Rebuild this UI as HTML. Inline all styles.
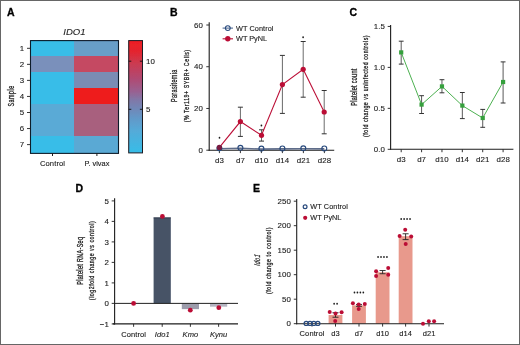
<!DOCTYPE html><html><head><meta charset="utf-8"><style>html,body{margin:0;padding:0;background:#fff;overflow:hidden;}svg{display:block;}text{font-family:"Liberation Sans", sans-serif;}</style></head><body>
<svg width="520" height="345" viewBox="0 0 520 345">
<rect x="0" y="0" width="520" height="345" fill="#fff"/>
<defs><filter id="soft" x="0" y="0" width="520" height="345" filterUnits="userSpaceOnUse"><feGaussianBlur stdDeviation="0.3"/></filter></defs>
<g filter="url(#soft)">
<text x="7.00" y="16.00" font-size="10.5" text-anchor="start" fill="#000" stroke="#000" stroke-width="0.3" font-weight="bold">A</text>
<text x="169.90" y="16.00" font-size="10.5" text-anchor="start" fill="#000" stroke="#000" stroke-width="0.3" font-weight="bold">B</text>
<text x="349.50" y="16.30" font-size="10.5" text-anchor="start" fill="#000" stroke="#000" stroke-width="0.3" font-weight="bold">C</text>
<text x="75.60" y="192.00" font-size="10.5" text-anchor="start" fill="#000" stroke="#000" stroke-width="0.3" font-weight="bold">D</text>
<text x="253.00" y="192.00" font-size="10.5" text-anchor="start" fill="#000" stroke="#000" stroke-width="0.3" font-weight="bold">E</text>
<text x="74.45" y="34.80" font-size="9.5" text-anchor="middle" fill="#222" stroke="#222" stroke-width="0.1" letter-spacing="0.1" font-style="italic">IDO1</text>
<rect x="30.5" y="40.40" width="44.6" height="16.55" fill="#37bde8" shape-rendering="crispEdges"/>
<rect x="74.2" y="40.40" width="44.4" height="16.55" fill="#689ec8" shape-rendering="crispEdges"/>
<rect x="30.5" y="56.35" width="44.6" height="16.55" fill="#7a90bb" shape-rendering="crispEdges"/>
<rect x="74.2" y="56.35" width="44.4" height="16.55" fill="#c54862" shape-rendering="crispEdges"/>
<rect x="30.5" y="72.30" width="44.6" height="16.55" fill="#37bde8" shape-rendering="crispEdges"/>
<rect x="74.2" y="72.30" width="44.4" height="16.55" fill="#7a8cb4" shape-rendering="crispEdges"/>
<rect x="30.5" y="88.25" width="44.6" height="16.55" fill="#37bde8" shape-rendering="crispEdges"/>
<rect x="74.2" y="88.25" width="44.4" height="16.55" fill="#ee1c1c" shape-rendering="crispEdges"/>
<rect x="30.5" y="104.20" width="44.6" height="16.55" fill="#5aaad6" shape-rendering="crispEdges"/>
<rect x="74.2" y="104.20" width="44.4" height="16.55" fill="#a8607e" shape-rendering="crispEdges"/>
<rect x="30.5" y="120.15" width="44.6" height="16.55" fill="#5aaad6" shape-rendering="crispEdges"/>
<rect x="74.2" y="120.15" width="44.4" height="16.55" fill="#a8607e" shape-rendering="crispEdges"/>
<rect x="30.5" y="136.10" width="44.6" height="17.30" fill="#37bde8" shape-rendering="crispEdges"/>
<rect x="74.2" y="136.10" width="44.4" height="17.30" fill="#5aa9d4" shape-rendering="crispEdges"/>
<rect x="30.5" y="40.6" width="88" height="112.8" fill="none" stroke="#0f1c2a" stroke-width="1.1"/>
<line x1="27.00" y1="48.30" x2="30.50" y2="48.30" stroke="#1e1e1e" stroke-width="0.9"/>
<text x="24.20" y="51.00" font-size="7.9" text-anchor="end" fill="#222" stroke="#222" stroke-width="0.12" letter-spacing="0.1" >1</text>
<line x1="27.00" y1="64.35" x2="30.50" y2="64.35" stroke="#1e1e1e" stroke-width="0.9"/>
<text x="24.20" y="67.05" font-size="7.9" text-anchor="end" fill="#222" stroke="#222" stroke-width="0.12" letter-spacing="0.1" >2</text>
<line x1="27.00" y1="80.40" x2="30.50" y2="80.40" stroke="#1e1e1e" stroke-width="0.9"/>
<text x="24.20" y="83.10" font-size="7.9" text-anchor="end" fill="#222" stroke="#222" stroke-width="0.12" letter-spacing="0.1" >3</text>
<line x1="27.00" y1="96.45" x2="30.50" y2="96.45" stroke="#1e1e1e" stroke-width="0.9"/>
<text x="24.20" y="99.15" font-size="7.9" text-anchor="end" fill="#222" stroke="#222" stroke-width="0.12" letter-spacing="0.1" >4</text>
<line x1="27.00" y1="112.50" x2="30.50" y2="112.50" stroke="#1e1e1e" stroke-width="0.9"/>
<text x="24.20" y="115.20" font-size="7.9" text-anchor="end" fill="#222" stroke="#222" stroke-width="0.12" letter-spacing="0.1" >5</text>
<line x1="27.00" y1="128.55" x2="30.50" y2="128.55" stroke="#1e1e1e" stroke-width="0.9"/>
<text x="24.20" y="131.25" font-size="7.9" text-anchor="end" fill="#222" stroke="#222" stroke-width="0.12" letter-spacing="0.1" >6</text>
<line x1="27.00" y1="144.60" x2="30.50" y2="144.60" stroke="#1e1e1e" stroke-width="0.9"/>
<text x="24.20" y="147.30" font-size="7.9" text-anchor="end" fill="#222" stroke="#222" stroke-width="0.12" letter-spacing="0.1" >7</text>
<line x1="52.50" y1="153.00" x2="52.50" y2="156.00" stroke="#1e1e1e" stroke-width="1.0"/>
<line x1="96.90" y1="153.00" x2="96.90" y2="156.00" stroke="#1e1e1e" stroke-width="1.0"/>
<text x="52.55" y="166.10" font-size="7.6" text-anchor="middle" fill="#222" stroke="#222" stroke-width="0.12" letter-spacing="0.1" >Control</text>
<text x="96.90" y="166.10" font-size="7.4" text-anchor="middle" fill="#222" stroke="#222" stroke-width="0.12" >P. vivax</text>
<text transform="translate(14.3,96.15) rotate(-90) scale(0.0640,0.1)" x="0" y="0" font-size="83.0" text-anchor="middle" fill="#222" stroke="#222" stroke-width="3.00" textLength="325.0" lengthAdjust="spacing">Sample</text>
<defs><linearGradient id="cb" x1="0" y1="0" x2="0" y2="1"><stop offset="0" stop-color="#ef1d24"/><stop offset="0.10" stop-color="#e3252f"/><stop offset="0.20" stop-color="#cc3a50"/><stop offset="0.33" stop-color="#b24870"/><stop offset="0.45" stop-color="#9a6090"/><stop offset="0.53" stop-color="#8078a8"/><stop offset="0.61" stop-color="#7088b8"/><stop offset="0.69" stop-color="#6298c8"/><stop offset="0.80" stop-color="#55aad8"/><stop offset="1" stop-color="#36bde8"/></linearGradient></defs>
<rect x="128.7" y="40.6" width="13.8" height="112.3" fill="url(#cb)" stroke="#1d1a22" stroke-width="1"/>
<line x1="128.70" y1="61.20" x2="131.30" y2="61.20" stroke="#111" stroke-width="0.9"/>
<line x1="139.90" y1="61.20" x2="142.50" y2="61.20" stroke="#111" stroke-width="0.9"/>
<text x="146.00" y="63.90" font-size="7.9" text-anchor="start" fill="#222" stroke="#222" stroke-width="0.12" letter-spacing="0.1" >10</text>
<line x1="128.70" y1="109.30" x2="131.30" y2="109.30" stroke="#111" stroke-width="0.9"/>
<line x1="139.90" y1="109.30" x2="142.50" y2="109.30" stroke="#111" stroke-width="0.9"/>
<text x="146.00" y="112.00" font-size="7.9" text-anchor="start" fill="#222" stroke="#222" stroke-width="0.12" letter-spacing="0.1" >5</text>
<line x1="209.20" y1="22.20" x2="209.20" y2="150.70" stroke="#1e1e1e" stroke-width="1.1"/>
<line x1="208.70" y1="150.20" x2="334.20" y2="150.20" stroke="#1e1e1e" stroke-width="1.1"/>
<line x1="206.30" y1="150.20" x2="209.20" y2="150.20" stroke="#1e1e1e" stroke-width="0.9"/>
<text x="203.10" y="152.90" font-size="7.9" text-anchor="end" fill="#222" stroke="#222" stroke-width="0.12" letter-spacing="0.1" >0</text>
<line x1="206.30" y1="108.47" x2="209.20" y2="108.47" stroke="#1e1e1e" stroke-width="0.9"/>
<text x="203.10" y="111.17" font-size="7.9" text-anchor="end" fill="#222" stroke="#222" stroke-width="0.12" letter-spacing="0.1" >20</text>
<line x1="206.30" y1="66.73" x2="209.20" y2="66.73" stroke="#1e1e1e" stroke-width="0.9"/>
<text x="203.10" y="69.43" font-size="7.9" text-anchor="end" fill="#222" stroke="#222" stroke-width="0.12" letter-spacing="0.1" >40</text>
<line x1="206.30" y1="25.00" x2="209.20" y2="25.00" stroke="#1e1e1e" stroke-width="0.9"/>
<text x="203.10" y="27.70" font-size="7.9" text-anchor="end" fill="#222" stroke="#222" stroke-width="0.12" letter-spacing="0.1" >60</text>
<line x1="219.40" y1="150.20" x2="219.40" y2="153.10" stroke="#1e1e1e" stroke-width="0.9"/>
<text x="219.45" y="162.80" font-size="7.9" text-anchor="middle" fill="#222" stroke="#222" stroke-width="0.12" letter-spacing="0.1" >d3</text>
<line x1="240.40" y1="150.20" x2="240.40" y2="153.10" stroke="#1e1e1e" stroke-width="0.9"/>
<text x="240.45" y="162.80" font-size="7.9" text-anchor="middle" fill="#222" stroke="#222" stroke-width="0.12" letter-spacing="0.1" >d7</text>
<line x1="261.40" y1="150.20" x2="261.40" y2="153.10" stroke="#1e1e1e" stroke-width="0.9"/>
<text x="261.45" y="162.80" font-size="7.9" text-anchor="middle" fill="#222" stroke="#222" stroke-width="0.12" letter-spacing="0.1" >d10</text>
<line x1="282.40" y1="150.20" x2="282.40" y2="153.10" stroke="#1e1e1e" stroke-width="0.9"/>
<text x="282.45" y="162.80" font-size="7.9" text-anchor="middle" fill="#222" stroke="#222" stroke-width="0.12" letter-spacing="0.1" >d14</text>
<line x1="303.40" y1="150.20" x2="303.40" y2="153.10" stroke="#1e1e1e" stroke-width="0.9"/>
<text x="303.45" y="162.80" font-size="7.9" text-anchor="middle" fill="#222" stroke="#222" stroke-width="0.12" letter-spacing="0.1" >d21</text>
<line x1="324.40" y1="150.20" x2="324.40" y2="153.10" stroke="#1e1e1e" stroke-width="0.9"/>
<text x="324.45" y="162.80" font-size="7.9" text-anchor="middle" fill="#222" stroke="#222" stroke-width="0.12" letter-spacing="0.1" >d28</text>
<text transform="translate(177.0,85.85) rotate(-90) scale(0.0640,0.1)" x="0" y="0" font-size="85.0" text-anchor="middle" fill="#222" stroke="#222" stroke-width="3.00" textLength="507.8" lengthAdjust="spacing">Parasitemia</text>
<text transform="translate(188.6,86.15) rotate(-90) scale(0.0640,0.1)" x="0" y="0" font-size="81.0" text-anchor="middle" fill="#222" stroke="#222" stroke-width="3.00" textLength="1131.2" lengthAdjust="spacing">(% Ter119+ SYBR+ Cells)</text>
<polyline points="219.4,148.8 240.4,148.3 261.4,149.1 282.4,148.9 303.3,148.8 324.3,148.9" fill="none" stroke="#5f6d8a" stroke-width="1.6"/>
<line x1="240.40" y1="107.20" x2="240.40" y2="136.40" stroke="#6a6a6a" stroke-width="1.0"/>
<line x1="237.90" y1="107.20" x2="242.90" y2="107.20" stroke="#333" stroke-width="1.0"/>
<line x1="237.90" y1="136.40" x2="242.90" y2="136.40" stroke="#333" stroke-width="1.0"/>
<line x1="261.50" y1="129.80" x2="261.50" y2="141.10" stroke="#6a6a6a" stroke-width="1.0"/>
<line x1="259.00" y1="129.80" x2="264.00" y2="129.80" stroke="#333" stroke-width="1.0"/>
<line x1="259.00" y1="141.10" x2="264.00" y2="141.10" stroke="#333" stroke-width="1.0"/>
<line x1="282.40" y1="55.40" x2="282.40" y2="113.40" stroke="#6a6a6a" stroke-width="1.0"/>
<line x1="279.90" y1="55.40" x2="284.90" y2="55.40" stroke="#333" stroke-width="1.0"/>
<line x1="279.90" y1="113.40" x2="284.90" y2="113.40" stroke="#333" stroke-width="1.0"/>
<line x1="303.20" y1="41.50" x2="303.20" y2="97.20" stroke="#6a6a6a" stroke-width="1.0"/>
<line x1="300.70" y1="41.50" x2="305.70" y2="41.50" stroke="#333" stroke-width="1.0"/>
<line x1="300.70" y1="97.20" x2="305.70" y2="97.20" stroke="#333" stroke-width="1.0"/>
<line x1="324.20" y1="90.50" x2="324.20" y2="133.80" stroke="#6a6a6a" stroke-width="1.0"/>
<line x1="321.70" y1="90.50" x2="326.70" y2="90.50" stroke="#333" stroke-width="1.0"/>
<line x1="321.70" y1="133.80" x2="326.70" y2="133.80" stroke="#333" stroke-width="1.0"/>
<polyline points="219.4,147.4 240.4,121.6 261.5,135.3 282.4,84.6 303.2,69.3 324.2,112.0" fill="none" stroke="#bb0e36" stroke-width="1.1"/>
<circle cx="219.4" cy="148.3" r="2.45" fill="none" stroke="#28497c" stroke-width="1.15"/>
<circle cx="240.4" cy="147.8" r="2.45" fill="none" stroke="#28497c" stroke-width="1.15"/>
<circle cx="261.4" cy="148.6" r="2.45" fill="none" stroke="#28497c" stroke-width="1.15"/>
<circle cx="282.4" cy="148.4" r="2.45" fill="none" stroke="#28497c" stroke-width="1.15"/>
<circle cx="303.3" cy="148.3" r="2.45" fill="none" stroke="#28497c" stroke-width="1.15"/>
<circle cx="324.3" cy="148.4" r="2.45" fill="none" stroke="#28497c" stroke-width="1.15"/>
<circle cx="219.4" cy="147.4" r="2.6" fill="#7a1a40"/>
<circle cx="240.4" cy="121.6" r="2.6" fill="#bb0e36"/>
<circle cx="261.5" cy="135.3" r="2.6" fill="#bb0e36"/>
<circle cx="282.4" cy="84.6" r="2.6" fill="#bb0e36"/>
<circle cx="303.2" cy="69.3" r="2.6" fill="#bb0e36"/>
<circle cx="324.2" cy="112.0" r="2.6" fill="#bb0e36"/>
<ellipse cx="219.5" cy="137.8" rx="0.85" ry="1.0" fill="#1a1a1a"/>
<ellipse cx="261.4" cy="125.4" rx="0.85" ry="1.0" fill="#1a1a1a"/>
<ellipse cx="303.1" cy="37.3" rx="0.85" ry="1.0" fill="#1a1a1a"/>
<line x1="222.60" y1="28.10" x2="233.00" y2="28.10" stroke="#28497c" stroke-width="0.9"/>
<circle cx="227.8" cy="28.1" r="2.4" fill="none" stroke="#28497c" stroke-width="1.1"/>
<text x="236.00" y="30.50" font-size="7.3" text-anchor="start" fill="#222" stroke="#222" stroke-width="0.12" letter-spacing="0.08" >WT Control</text>
<line x1="222.60" y1="38.80" x2="233.00" y2="38.80" stroke="#bb0e36" stroke-width="1.1"/>
<circle cx="227.8" cy="38.8" r="2.7" fill="#bb0e36"/>
<text x="236.00" y="41.20" font-size="7.3" text-anchor="start" fill="#222" stroke="#222" stroke-width="0.12" >WT PyNL</text>
<line x1="390.60" y1="25.10" x2="390.60" y2="149.80" stroke="#1e1e1e" stroke-width="1.1"/>
<line x1="390.10" y1="149.30" x2="513.40" y2="149.30" stroke="#1e1e1e" stroke-width="1.1"/>
<line x1="387.70" y1="149.30" x2="390.60" y2="149.30" stroke="#1e1e1e" stroke-width="0.9"/>
<text x="385.10" y="152.00" font-size="7.9" text-anchor="end" fill="#222" stroke="#222" stroke-width="0.12" letter-spacing="0.1" >0.0</text>
<line x1="387.70" y1="108.35" x2="390.60" y2="108.35" stroke="#1e1e1e" stroke-width="0.9"/>
<text x="385.10" y="111.05" font-size="7.9" text-anchor="end" fill="#222" stroke="#222" stroke-width="0.12" letter-spacing="0.1" >0.5</text>
<line x1="387.70" y1="67.40" x2="390.60" y2="67.40" stroke="#1e1e1e" stroke-width="0.9"/>
<text x="385.10" y="70.10" font-size="7.9" text-anchor="end" fill="#222" stroke="#222" stroke-width="0.12" letter-spacing="0.1" >1.0</text>
<line x1="387.70" y1="26.45" x2="390.60" y2="26.45" stroke="#1e1e1e" stroke-width="0.9"/>
<text x="385.10" y="29.15" font-size="7.9" text-anchor="end" fill="#222" stroke="#222" stroke-width="0.12" letter-spacing="0.1" >1.5</text>
<line x1="401.20" y1="149.30" x2="401.20" y2="152.20" stroke="#1e1e1e" stroke-width="0.9"/>
<text x="401.25" y="162.00" font-size="7.9" text-anchor="middle" fill="#222" stroke="#222" stroke-width="0.12" letter-spacing="0.1" >d3</text>
<line x1="421.58" y1="149.30" x2="421.58" y2="152.20" stroke="#1e1e1e" stroke-width="0.9"/>
<text x="421.63" y="162.00" font-size="7.9" text-anchor="middle" fill="#222" stroke="#222" stroke-width="0.12" letter-spacing="0.1" >d7</text>
<line x1="441.96" y1="149.30" x2="441.96" y2="152.20" stroke="#1e1e1e" stroke-width="0.9"/>
<text x="442.01" y="162.00" font-size="7.9" text-anchor="middle" fill="#222" stroke="#222" stroke-width="0.12" letter-spacing="0.1" >d10</text>
<line x1="462.34" y1="149.30" x2="462.34" y2="152.20" stroke="#1e1e1e" stroke-width="0.9"/>
<text x="462.39" y="162.00" font-size="7.9" text-anchor="middle" fill="#222" stroke="#222" stroke-width="0.12" letter-spacing="0.1" >d14</text>
<line x1="482.72" y1="149.30" x2="482.72" y2="152.20" stroke="#1e1e1e" stroke-width="0.9"/>
<text x="482.77" y="162.00" font-size="7.9" text-anchor="middle" fill="#222" stroke="#222" stroke-width="0.12" letter-spacing="0.1" >d21</text>
<line x1="503.10" y1="149.30" x2="503.10" y2="152.20" stroke="#1e1e1e" stroke-width="0.9"/>
<text x="503.15" y="162.00" font-size="7.9" text-anchor="middle" fill="#222" stroke="#222" stroke-width="0.12" letter-spacing="0.1" >d28</text>
<text transform="translate(357.3,87.25) rotate(-90) scale(0.0640,0.1)" x="0" y="0" font-size="85.0" text-anchor="middle" fill="#222" stroke="#222" stroke-width="3.00" textLength="578.1" lengthAdjust="spacing">Platelet count</text>
<text transform="translate(368.3,86.2) rotate(-90) scale(0.0640,0.1)" x="0" y="0" font-size="81.0" text-anchor="middle" fill="#222" stroke="#222" stroke-width="3.00" textLength="1587.5" lengthAdjust="spacing">(fold change vs uninfected controls)</text>
<line x1="401.20" y1="41.20" x2="401.20" y2="64.10" stroke="#5a5a5a" stroke-width="1.0"/>
<line x1="398.80" y1="41.20" x2="403.60" y2="41.20" stroke="#333" stroke-width="1.0"/>
<line x1="398.80" y1="64.10" x2="403.60" y2="64.10" stroke="#333" stroke-width="1.0"/>
<line x1="421.58" y1="95.70" x2="421.58" y2="113.50" stroke="#5a5a5a" stroke-width="1.0"/>
<line x1="419.18" y1="95.70" x2="423.98" y2="95.70" stroke="#333" stroke-width="1.0"/>
<line x1="419.18" y1="113.50" x2="423.98" y2="113.50" stroke="#333" stroke-width="1.0"/>
<line x1="441.96" y1="79.70" x2="441.96" y2="92.80" stroke="#5a5a5a" stroke-width="1.0"/>
<line x1="439.56" y1="79.70" x2="444.36" y2="79.70" stroke="#333" stroke-width="1.0"/>
<line x1="439.56" y1="92.80" x2="444.36" y2="92.80" stroke="#333" stroke-width="1.0"/>
<line x1="462.34" y1="92.50" x2="462.34" y2="118.60" stroke="#5a5a5a" stroke-width="1.0"/>
<line x1="459.94" y1="92.50" x2="464.74" y2="92.50" stroke="#333" stroke-width="1.0"/>
<line x1="459.94" y1="118.60" x2="464.74" y2="118.60" stroke="#333" stroke-width="1.0"/>
<line x1="482.72" y1="109.40" x2="482.72" y2="127.30" stroke="#5a5a5a" stroke-width="1.0"/>
<line x1="480.32" y1="109.40" x2="485.12" y2="109.40" stroke="#333" stroke-width="1.0"/>
<line x1="480.32" y1="127.30" x2="485.12" y2="127.30" stroke="#333" stroke-width="1.0"/>
<line x1="503.10" y1="61.90" x2="503.10" y2="103.00" stroke="#5a5a5a" stroke-width="1.0"/>
<line x1="500.70" y1="61.90" x2="505.50" y2="61.90" stroke="#333" stroke-width="1.0"/>
<line x1="500.70" y1="103.00" x2="505.50" y2="103.00" stroke="#333" stroke-width="1.0"/>
<polyline points="401.2,52.4 421.6,104.6 442.0,86.4 462.3,105.6 482.7,118.0 503.1,82.0" fill="none" stroke="#4cb050" stroke-width="1"/>
<rect x="399.10" y="50.30" width="4.2" height="4.2" fill="#36a03c"/>
<rect x="419.48" y="102.50" width="4.2" height="4.2" fill="#36a03c"/>
<rect x="439.86" y="84.30" width="4.2" height="4.2" fill="#36a03c"/>
<rect x="460.24" y="103.50" width="4.2" height="4.2" fill="#36a03c"/>
<rect x="480.62" y="115.90" width="4.2" height="4.2" fill="#36a03c"/>
<rect x="501.00" y="79.90" width="4.2" height="4.2" fill="#36a03c"/>
<line x1="114.60" y1="198.20" x2="114.60" y2="324.40" stroke="#1e1e1e" stroke-width="1.1"/>
<line x1="111.70" y1="323.90" x2="114.60" y2="323.90" stroke="#1e1e1e" stroke-width="0.9"/>
<text x="109.00" y="326.60" font-size="7.9" text-anchor="end" fill="#222" stroke="#222" stroke-width="0.12" letter-spacing="0.1" >−1</text>
<line x1="111.70" y1="303.40" x2="114.60" y2="303.40" stroke="#1e1e1e" stroke-width="0.9"/>
<text x="109.00" y="306.10" font-size="7.9" text-anchor="end" fill="#222" stroke="#222" stroke-width="0.12" letter-spacing="0.1" >0</text>
<line x1="111.70" y1="282.90" x2="114.60" y2="282.90" stroke="#1e1e1e" stroke-width="0.9"/>
<text x="109.00" y="285.60" font-size="7.9" text-anchor="end" fill="#222" stroke="#222" stroke-width="0.12" letter-spacing="0.1" >1</text>
<line x1="111.70" y1="262.40" x2="114.60" y2="262.40" stroke="#1e1e1e" stroke-width="0.9"/>
<text x="109.00" y="265.10" font-size="7.9" text-anchor="end" fill="#222" stroke="#222" stroke-width="0.12" letter-spacing="0.1" >2</text>
<line x1="111.70" y1="241.90" x2="114.60" y2="241.90" stroke="#1e1e1e" stroke-width="0.9"/>
<text x="109.00" y="244.60" font-size="7.9" text-anchor="end" fill="#222" stroke="#222" stroke-width="0.12" letter-spacing="0.1" >3</text>
<line x1="111.70" y1="221.40" x2="114.60" y2="221.40" stroke="#1e1e1e" stroke-width="0.9"/>
<text x="109.00" y="224.10" font-size="7.9" text-anchor="end" fill="#222" stroke="#222" stroke-width="0.12" letter-spacing="0.1" >4</text>
<line x1="111.70" y1="200.90" x2="114.60" y2="200.90" stroke="#1e1e1e" stroke-width="0.9"/>
<text x="109.00" y="203.60" font-size="7.9" text-anchor="end" fill="#222" stroke="#222" stroke-width="0.12" letter-spacing="0.1" >5</text>
<rect x="153.60" y="217.50" width="17.2" height="85.90" fill="#465366"/>
<line x1="153.60" y1="217.90" x2="170.80" y2="217.90" stroke="#2c3646" stroke-width="0.8"/>
<rect x="181.80" y="303.40" width="17.2" height="5.74" fill="#9c9cab"/>
<rect x="210.00" y="303.40" width="17.2" height="3.28" fill="#b5b5c2"/>
<line x1="114.60" y1="303.40" x2="238.00" y2="303.40" stroke="#222" stroke-width="1.0"/>
<line x1="112.80" y1="323.90" x2="238.00" y2="323.90" stroke="#1e1e1e" stroke-width="1.1"/>
<line x1="133.60" y1="323.90" x2="133.60" y2="326.80" stroke="#1e1e1e" stroke-width="0.9"/>
<line x1="162.20" y1="323.90" x2="162.20" y2="326.80" stroke="#1e1e1e" stroke-width="0.9"/>
<line x1="190.40" y1="323.90" x2="190.40" y2="326.80" stroke="#1e1e1e" stroke-width="0.9"/>
<line x1="218.60" y1="323.90" x2="218.60" y2="326.80" stroke="#1e1e1e" stroke-width="0.9"/>
<circle cx="133.6" cy="303.4" r="2.4" fill="#bb0e36"/>
<circle cx="162.4" cy="216.4" r="2.4" fill="#bb0e36"/>
<circle cx="190.3" cy="310.2" r="2.4" fill="#bb0e36"/>
<circle cx="218.8" cy="307.7" r="2.4" fill="#bb0e36"/>
<text x="133.65" y="336.50" font-size="7.5" text-anchor="middle" fill="#222" stroke="#222" stroke-width="0.12" letter-spacing="0.1" >Control</text>
<text x="162.25" y="336.50" font-size="7.5" text-anchor="middle" fill="#222" stroke="#222" stroke-width="0.12" letter-spacing="0.1" font-style="italic">Ido1</text>
<text x="190.45" y="336.50" font-size="7.5" text-anchor="middle" fill="#222" stroke="#222" stroke-width="0.12" letter-spacing="0.1" font-style="italic">Kmo</text>
<text x="218.65" y="336.50" font-size="7.5" text-anchor="middle" fill="#222" stroke="#222" stroke-width="0.12" letter-spacing="0.1" font-style="italic">Kynu</text>
<text transform="translate(82.7,260.9) rotate(-90) scale(0.0640,0.1)" x="0" y="0" font-size="85.0" text-anchor="middle" fill="#222" stroke="#222" stroke-width="3.00" textLength="746.9" lengthAdjust="spacing">Platelet RNA-Seq</text>
<text transform="translate(93.8,260.75) rotate(-90) scale(0.0640,0.1)" x="0" y="0" font-size="81.0" text-anchor="middle" fill="#222" stroke="#222" stroke-width="3.00" textLength="1231.2" lengthAdjust="spacing">(log2fold change vs control)</text>
<line x1="296.70" y1="199.00" x2="296.70" y2="324.20" stroke="#1e1e1e" stroke-width="1.1"/>
<line x1="293.80" y1="323.70" x2="296.70" y2="323.70" stroke="#1e1e1e" stroke-width="0.9"/>
<text x="291.00" y="326.40" font-size="7.9" text-anchor="end" fill="#222" stroke="#222" stroke-width="0.12" letter-spacing="0.1" >0</text>
<line x1="293.80" y1="299.20" x2="296.70" y2="299.20" stroke="#1e1e1e" stroke-width="0.9"/>
<text x="291.00" y="301.90" font-size="7.9" text-anchor="end" fill="#222" stroke="#222" stroke-width="0.12" letter-spacing="0.1" >50</text>
<line x1="293.80" y1="274.70" x2="296.70" y2="274.70" stroke="#1e1e1e" stroke-width="0.9"/>
<text x="291.00" y="277.40" font-size="7.9" text-anchor="end" fill="#222" stroke="#222" stroke-width="0.12" letter-spacing="0.1" >100</text>
<line x1="293.80" y1="250.20" x2="296.70" y2="250.20" stroke="#1e1e1e" stroke-width="0.9"/>
<text x="291.00" y="252.90" font-size="7.9" text-anchor="end" fill="#222" stroke="#222" stroke-width="0.12" letter-spacing="0.1" >150</text>
<line x1="293.80" y1="225.70" x2="296.70" y2="225.70" stroke="#1e1e1e" stroke-width="0.9"/>
<text x="291.00" y="228.40" font-size="7.9" text-anchor="end" fill="#222" stroke="#222" stroke-width="0.12" letter-spacing="0.1" >200</text>
<line x1="293.80" y1="201.20" x2="296.70" y2="201.20" stroke="#1e1e1e" stroke-width="0.9"/>
<text x="291.00" y="203.90" font-size="7.9" text-anchor="end" fill="#222" stroke="#222" stroke-width="0.12" letter-spacing="0.1" >250</text>
<rect x="328.60" y="314.98" width="13.8" height="8.72" fill="#e8998c"/>
<rect x="352.10" y="305.37" width="13.8" height="18.33" fill="#e8998c"/>
<rect x="375.70" y="272.25" width="13.8" height="51.45" fill="#e8998c"/>
<rect x="398.70" y="236.19" width="13.8" height="87.51" fill="#e8998c"/>
<line x1="296.20" y1="323.70" x2="444.00" y2="323.70" stroke="#1e1e1e" stroke-width="1.1"/>
<line x1="312.00" y1="323.70" x2="312.00" y2="326.60" stroke="#1e1e1e" stroke-width="0.9"/>
<line x1="335.50" y1="323.70" x2="335.50" y2="326.60" stroke="#1e1e1e" stroke-width="0.9"/>
<line x1="359.00" y1="323.70" x2="359.00" y2="326.60" stroke="#1e1e1e" stroke-width="0.9"/>
<line x1="382.60" y1="323.70" x2="382.60" y2="326.60" stroke="#1e1e1e" stroke-width="0.9"/>
<line x1="405.60" y1="323.70" x2="405.60" y2="326.60" stroke="#1e1e1e" stroke-width="0.9"/>
<line x1="429.00" y1="323.70" x2="429.00" y2="326.60" stroke="#1e1e1e" stroke-width="0.9"/>
<line x1="335.50" y1="312.72" x2="335.50" y2="317.23" stroke="#222" stroke-width="0.9"/>
<line x1="332.50" y1="312.72" x2="338.50" y2="312.72" stroke="#222" stroke-width="0.9"/>
<line x1="332.50" y1="317.23" x2="338.50" y2="317.23" stroke="#222" stroke-width="0.9"/>
<line x1="359.00" y1="304.44" x2="359.00" y2="306.31" stroke="#222" stroke-width="0.9"/>
<line x1="356.00" y1="304.44" x2="362.00" y2="304.44" stroke="#222" stroke-width="0.9"/>
<line x1="356.00" y1="306.31" x2="362.00" y2="306.31" stroke="#222" stroke-width="0.9"/>
<line x1="382.60" y1="270.53" x2="382.60" y2="273.72" stroke="#222" stroke-width="0.9"/>
<line x1="379.60" y1="270.53" x2="385.60" y2="270.53" stroke="#222" stroke-width="0.9"/>
<line x1="379.60" y1="273.72" x2="385.60" y2="273.72" stroke="#222" stroke-width="0.9"/>
<line x1="405.60" y1="233.78" x2="405.60" y2="239.62" stroke="#222" stroke-width="0.9"/>
<line x1="402.60" y1="233.78" x2="408.60" y2="233.78" stroke="#222" stroke-width="0.9"/>
<line x1="402.60" y1="239.62" x2="408.60" y2="239.62" stroke="#222" stroke-width="0.9"/>
<circle cx="329.7" cy="311.9" r="2.0" fill="#bb0e36"/>
<circle cx="335.5" cy="313.6" r="2.0" fill="#bb0e36"/>
<circle cx="341.6" cy="312.2" r="2.0" fill="#bb0e36"/>
<circle cx="335.2" cy="320.9" r="2.0" fill="#bb0e36"/>
<circle cx="352.9" cy="303.2" r="2.0" fill="#bb0e36"/>
<circle cx="358.7" cy="304.6" r="2.0" fill="#bb0e36"/>
<circle cx="364.8" cy="303.9" r="2.0" fill="#bb0e36"/>
<circle cx="358.7" cy="309.0" r="2.0" fill="#bb0e36"/>
<circle cx="376.1" cy="271.3" r="2.0" fill="#bb0e36"/>
<circle cx="388.2" cy="267.9" r="2.0" fill="#bb0e36"/>
<circle cx="376.1" cy="276.0" r="2.0" fill="#bb0e36"/>
<circle cx="388.2" cy="274.8" r="2.0" fill="#bb0e36"/>
<circle cx="405.2" cy="229.7" r="2.0" fill="#bb0e36"/>
<circle cx="399.6" cy="236.0" r="2.0" fill="#bb0e36"/>
<circle cx="411.2" cy="236.6" r="2.0" fill="#bb0e36"/>
<circle cx="405.7" cy="243.9" r="2.0" fill="#bb0e36"/>
<circle cx="423.0" cy="323.7" r="2.0" fill="#bb0e36"/>
<circle cx="428.8" cy="321.2" r="2.0" fill="#bb0e36"/>
<circle cx="434.1" cy="321.2" r="2.0" fill="#bb0e36"/>
<circle cx="306.2" cy="323.4" r="2.1" fill="none" stroke="#28497c" stroke-width="1.2"/>
<circle cx="310.0" cy="323.4" r="2.1" fill="none" stroke="#28497c" stroke-width="1.2"/>
<circle cx="313.8" cy="323.4" r="2.1" fill="none" stroke="#28497c" stroke-width="1.2"/>
<circle cx="317.8" cy="323.4" r="2.1" fill="none" stroke="#28497c" stroke-width="1.2"/>
<ellipse cx="334.12" cy="303.8" rx="0.85" ry="1.05" fill="#1a1a1a"/>
<ellipse cx="337.08" cy="303.8" rx="0.85" ry="1.05" fill="#1a1a1a"/>
<ellipse cx="354.47" cy="292.5" rx="0.85" ry="1.05" fill="#1a1a1a"/>
<ellipse cx="357.42" cy="292.5" rx="0.85" ry="1.05" fill="#1a1a1a"/>
<ellipse cx="360.38" cy="292.5" rx="0.85" ry="1.05" fill="#1a1a1a"/>
<ellipse cx="363.32" cy="292.5" rx="0.85" ry="1.05" fill="#1a1a1a"/>
<ellipse cx="378.07" cy="257.0" rx="0.85" ry="1.05" fill="#1a1a1a"/>
<ellipse cx="381.02" cy="257.0" rx="0.85" ry="1.05" fill="#1a1a1a"/>
<ellipse cx="383.98" cy="257.0" rx="0.85" ry="1.05" fill="#1a1a1a"/>
<ellipse cx="386.93" cy="257.0" rx="0.85" ry="1.05" fill="#1a1a1a"/>
<ellipse cx="401.18" cy="219.0" rx="0.85" ry="1.05" fill="#1a1a1a"/>
<ellipse cx="404.12" cy="219.0" rx="0.85" ry="1.05" fill="#1a1a1a"/>
<ellipse cx="407.08" cy="219.0" rx="0.85" ry="1.05" fill="#1a1a1a"/>
<ellipse cx="410.03" cy="219.0" rx="0.85" ry="1.05" fill="#1a1a1a"/>
<circle cx="305.1" cy="206.8" r="1.9" fill="none" stroke="#28497c" stroke-width="1.2"/>
<text x="310.30" y="209.30" font-size="7.3" text-anchor="start" fill="#222" stroke="#222" stroke-width="0.12" letter-spacing="0.08" >WT Control</text>
<circle cx="305.2" cy="217.8" r="2.1" fill="#bb0e36"/>
<text x="310.30" y="220.30" font-size="7.3" text-anchor="start" fill="#222" stroke="#222" stroke-width="0.12" >WT PyNL</text>
<text x="312.05" y="336.30" font-size="7.5" text-anchor="middle" fill="#222" stroke="#222" stroke-width="0.12" letter-spacing="0.1" >Control</text>
<text x="335.55" y="336.30" font-size="7.5" text-anchor="middle" fill="#222" stroke="#222" stroke-width="0.12" letter-spacing="0.1" >d3</text>
<text x="359.05" y="336.30" font-size="7.5" text-anchor="middle" fill="#222" stroke="#222" stroke-width="0.12" letter-spacing="0.1" >d7</text>
<text x="382.65" y="336.30" font-size="7.5" text-anchor="middle" fill="#222" stroke="#222" stroke-width="0.12" letter-spacing="0.1" >d10</text>
<text x="405.65" y="336.30" font-size="7.5" text-anchor="middle" fill="#222" stroke="#222" stroke-width="0.12" letter-spacing="0.1" >d14</text>
<text x="429.05" y="336.30" font-size="7.5" text-anchor="middle" fill="#222" stroke="#222" stroke-width="0.12" letter-spacing="0.1" >d21</text>
<text transform="translate(259.9,260.6) rotate(-90) skewX(-9) scale(0.0640,0.1)" x="0" y="0" font-size="83.0" text-anchor="middle" fill="#222" stroke="#222" stroke-width="2.00" textLength="178.1" lengthAdjust="spacing" font-style="italic">Ido1</text>
<text transform="translate(270.5,260.8) rotate(-90) scale(0.0640,0.1)" x="0" y="0" font-size="81.0" text-anchor="middle" fill="#222" stroke="#222" stroke-width="3.00" textLength="1037.5" lengthAdjust="spacing">(fold change to control)</text>
</g>
<rect x="0.5" y="0.5" width="519" height="344" fill="none" stroke="#666" stroke-width="1"/>
</svg></body></html>
